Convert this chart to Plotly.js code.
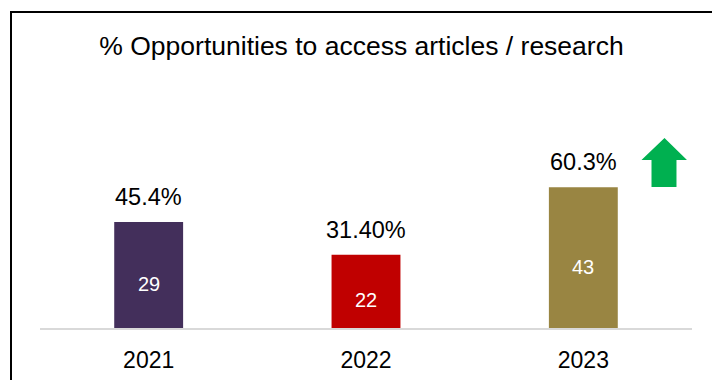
<!DOCTYPE html>
<html>
<head>
<meta charset="utf-8">
<script src="https://cdn.plot.ly/plotly-3.0.1.min.js"></script>
<style>
  html, body { margin: 0; padding: 0; background: #fff; }
  #wrap { position: relative; width: 712px; height: 380px; overflow: hidden; }
  #chart { width: 712px; height: 380px; }
  #frame { position: absolute; left: 10px; top: 11px; width: 760px; height: 420px;
           border-left: 2px solid #000; border-top: 2px solid #000; pointer-events: none; }
</style>
</head>
<body>
<div id="wrap">
  <div id="chart"></div>
  <div id="frame"></div>
</div>
<script>
// Data
const years = ['2021', '2022', '2023'];
const percentValues = [45.4, 31.4, 60.3];
const percentLabels = ['45.4%', '31.40%', '60.3%'];
const counts = [29, 22, 43];
const barColors = ['#432F5B', '#C00000', '#998542'];

// Layout geometry (pixels)
const W = 712, H = 380;
const M = { l: 40, r: 20, t: 80, b: 52 };
const plotW = W - M.l - M.r, plotH = H - M.t - M.b;
const px2x = p => (p - M.l) / plotW;
const px2y = p => (H - M.b - p) / plotH;
const FONT = 'Liberation Sans, Arial, sans-serif';

const trace = {
  type: 'bar',
  x: years,
  y: percentValues,
  marker: { color: barColors, line: { width: 0 } },
  hoverinfo: 'skip'
};

const annotations = [];
years.forEach((yr, i) => {
  annotations.push({
    x: i, y: percentValues[i], xref: 'x', yref: 'y',
    text: percentLabels[i], showarrow: false,
    yanchor: 'middle', xanchor: 'center', yshift: 25,
    font: { family: FONT, size: 23.5, color: '#000' }
  });
  annotations.push({
    x: i, y: percentValues[i] / 2, xref: 'x', yref: 'y',
    text: String(counts[i]), showarrow: false,
    yanchor: 'middle', xanchor: 'center', yshift: -9,
    font: { family: FONT, size: 20, color: '#fff' }
  });
});

// Green up arrow (decoration)
const arrowPts = [[664.5,138],[687,160],[676.5,160],[676.5,187],[651.5,187],[651.5,160],[641.5,160]];
const arrowPath = 'M ' + arrowPts.map(p => px2x(p[0]).toFixed(4) + ',' + px2y(p[1]).toFixed(4)).join(' L ') + ' Z';

const layout = {
  width: W, height: H,
  margin: M,
  paper_bgcolor: '#fff', plot_bgcolor: '#fff',
  showlegend: false,
  bargap: 0.683,
  title: {
    text: '% Opportunities to access articles / research',
    x: 361.5 / W, xref: 'container', xanchor: 'center',
    y: 1 - 46 / H, yref: 'container', yanchor: 'middle',
    font: { family: FONT, size: 26.5, color: '#000' }
  },
  xaxis: {
    type: 'category',
    range: [-0.5, 2.5],
    showline: true, linecolor: '#D9D9D9', linewidth: 2,
    showgrid: false, zeroline: false,
    ticks: '', ticklabelstandoff: 10,
    tickfont: { family: FONT, size: 23, color: '#000' },
    fixedrange: true
  },
  yaxis: {
    range: [0, plotH / 2.336],
    showticklabels: false, showline: false, ticks: '',
    showgrid: false, zeroline: false, fixedrange: true
  },
  annotations: annotations,
  shapes: [{
    type: 'path', xref: 'paper', yref: 'paper', path: arrowPath,
    fillcolor: '#00B050', line: { width: 0 }
  }]
};

Plotly.newPlot('chart', [trace], layout, { displayModeBar: false, staticPlot: true });
</script>
</body>
</html>
